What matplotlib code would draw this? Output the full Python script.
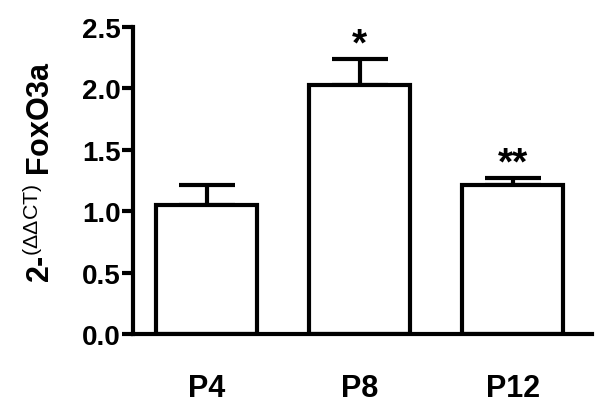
import numpy as np
import matplotlib.pyplot as plt

plt.rcParams['font.family'] = ['Liberation Sans', 'DejaVu Sans']
plt.rcParams['mathtext.fontset'] = 'custom'
plt.rcParams['mathtext.rm'] = 'Liberation Sans'
plt.rcParams['mathtext.bf'] = 'Liberation Sans:bold'

# data
groups = ['P4', 'P8', 'P12']
means = [1.05, 2.03, 1.21]
sem = [0.16, 0.21, 0.06]
marks = ['', '*', '**']

fig = plt.figure(figsize=(6.0, 4.06), dpi=100)
ax = fig.add_axes([0.222, 0.175, 0.765, 0.756])

x = np.arange(len(groups))
lw = 3.0
ax.bar(x, means, width=0.66, color='white', edgecolor='black', linewidth=lw, zorder=2)
ax.errorbar(x, means, yerr=[np.zeros(len(sem)), sem], fmt='none', ecolor='black',
            elinewidth=lw, capsize=20, capthick=lw, zorder=1)

for xi, m, s, mk in zip(x, means, sem, marks):
    if mk:
        ax.text(xi, m + s - 0.03, mk, ha='center', va='bottom', fontsize=28,
                fontweight='bold')

ax.set_xlim(-0.48, 2.52)
ax.set_ylim(0, 2.5)
ax.set_yticks([0.0, 0.5, 1.0, 1.5, 2.0, 2.5])
ax.set_yticklabels(['0.0', '0.5', '1.0', '1.5', '2.0', '2.5'])
ax.set_xticks(x)
ax.set_xticklabels(groups)

for side in ['top', 'right']:
    ax.spines[side].set_visible(False)
for side in ['left', 'bottom']:
    ax.spines[side].set_linewidth(lw)
ax.spines['left'].set_bounds(0, 2.5)

ax.tick_params(axis='y', length=8, width=lw, pad=1, labelsize=20)
ax.tick_params(axis='x', length=0, pad=28, labelsize=22)
for lab in ax.get_xticklabels() + ax.get_yticklabels():
    lab.set_fontweight('bold')

ax.set_ylabel(r'2-$^{(\Delta\Delta\mathrm{CT})}$ FoxO3a',
              fontsize=22, fontweight='bold')
ax.yaxis.set_label_coords(-0.165, 0.53)

fig.savefig('out.png', dpi=100)
